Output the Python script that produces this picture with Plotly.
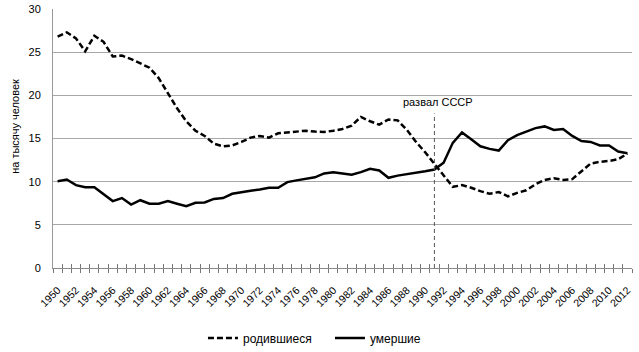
import plotly.graph_objects as go

years = list(range(1950, 2013))
births = [26.8, 27.3, 26.6, 25.1, 26.9, 26.2, 24.5, 24.6, 24.2, 23.7,
          23.2, 22.0, 20.3, 18.5, 17.0, 15.9, 15.3, 14.4, 14.1, 14.2,
          14.6, 15.1, 15.3, 15.1, 15.6, 15.7, 15.8, 15.9, 15.8, 15.75,
          15.9, 16.1, 16.5, 17.5, 17.0, 16.6, 17.2, 17.1, 16.0, 14.6,
          13.4, 12.1, 10.7, 9.4, 9.6, 9.3, 8.9, 8.6, 8.8, 8.3,
          8.7, 9.0, 9.7, 10.2, 10.4, 10.2, 10.3, 11.2, 12.1, 12.3,
          12.4, 12.6, 13.25]
deaths = [10.05, 10.25, 9.6, 9.35, 9.35, 8.5, 7.75, 8.1, 7.35, 7.85,
          7.45, 7.45, 7.75, 7.45, 7.15, 7.55, 7.6, 8.0, 8.1, 8.6,
          8.8, 8.95, 9.1, 9.3, 9.3, 9.95, 10.15, 10.3, 10.5, 10.95,
          11.1, 10.95, 10.8, 11.1, 11.5, 11.3, 10.45, 10.7, 10.85, 11.0,
          11.2, 11.4, 12.2, 14.5, 15.7, 14.9, 14.1, 13.8, 13.6, 14.8,
          15.4, 15.8, 16.2, 16.4, 16.0, 16.1, 15.3, 14.7, 14.6, 14.2,
          14.2, 13.5, 13.3]
tick_years = list(range(1950, 2013, 2))
tick_labels = [str(y) for y in tick_years]
event_year = 1991
event_label = "развал СССР"
y_title = "на тысячу человек"
births_name = "родившиеся"
deaths_name = "умершие"

FONT = "Liberation Sans, Arial, sans-serif"

fig = go.Figure()
fig.add_trace(go.Scatter(x=years, y=births, mode="lines", name=births_name,
                         line=dict(color="black", width=2.5, dash="6px,3px")))
fig.add_trace(go.Scatter(x=years, y=deaths, mode="lines", name=deaths_name,
                         line=dict(color="black", width=2.5)))
# invisible trace to activate overlay axis (for crossing ticks)
fig.add_trace(go.Scatter(x=[years[0]], y=[0], xaxis="x2", mode="markers",
                         marker=dict(opacity=0), showlegend=False, hoverinfo="skip"))

xr = [years[0] - 0.5, years[-1] + 0.5]
fig.update_layout(
    width=639, height=352,
    margin=dict(l=53, r=7, t=9, b=84, autoexpand=False),
    paper_bgcolor="white", plot_bgcolor="white",
    font=dict(family=FONT, size=11, color="black"),
    showlegend=True,
    legend=dict(orientation="h", x=0.259, xanchor="left", y=-0.27, yanchor="middle",
                font=dict(size=12), entrywidth=82, tracegroupgap=0),
    xaxis=dict(range=xr, tickmode="array", tickvals=tick_years, ticktext=tick_labels,
               tickangle=-45, ticks="", showgrid=False, zeroline=False, automargin=False,
               showline=True, linecolor="#888888", linewidth=1,
               tickfont=dict(size=10.5), ticklabelstandoff=11,
               minor=dict(tickmode="linear", tick0=1949.5, dtick=1, ticks="outside",
                          ticklen=4, tickcolor="#777777", showgrid=False)),
    xaxis2=dict(range=xr, overlaying="x", anchor="y", side="bottom", automargin=False,
                tickmode="linear", tick0=1949.5, dtick=1, ticks="inside",
                ticklen=4, tickcolor="#777777", showticklabels=False,
                showgrid=False, zeroline=False, showline=False),
    yaxis=dict(range=[0, 30], dtick=5, showgrid=True, gridcolor="#a8a8a8", gridwidth=1,
               zeroline=False, showline=True, linecolor="#999999", linewidth=1,
               ticks="", ticklabelstandoff=9, automargin=False),
    shapes=[dict(type="line", xref="x", yref="y", x0=event_year, x1=event_year,
                 y0=0, y1=17.9, line=dict(color="#555555", width=1, dash="4px,3px"))],
    annotations=[
        dict(x=event_year + 0.4, y=19.2, xref="x", yref="y", text=event_label,
             showarrow=False, xanchor="center", yanchor="middle", font=dict(size=11)),
        dict(x=-0.066, y=0.548, xref="paper", yref="paper", text=y_title,
             showarrow=False, textangle=-90, xanchor="center", yanchor="middle",
             font=dict(size=11)),
    ],
)

fig.write_html("out.html")
